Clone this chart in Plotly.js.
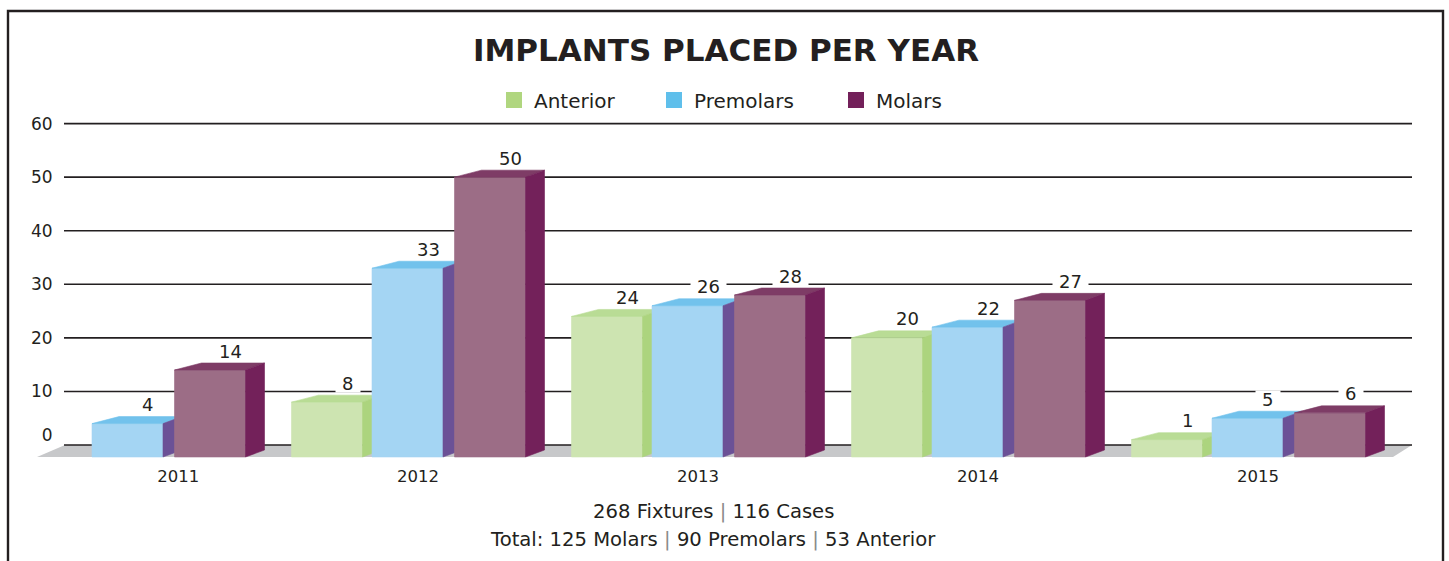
<!DOCTYPE html>
<html><head><meta charset="utf-8">
<script src="https://cdn.plot.ly/plotly-3.0.1.min.js"></script>
<style>html,body{margin:0;padding:0;background:#fff}#chart{width:1449px;height:561px}</style>
</head><body><div id="chart"></div>
<script>
// ---------------- data ----------------
const years = ['2011', '2012', '2013', '2014', '2015'];
const anterior = [0, 8, 24, 20, 1];
const premolars = [4, 33, 26, 22, 5];
const molars = [14, 50, 28, 27, 6];
const seriesNames = ['Anterior', 'Premolars', 'Molars'];
const yTicks = [0, 10, 20, 30, 40, 50, 60];
const chartTitle = 'IMPLANTS PLACED PER YEAR';
const footerLines = ['268 Fixtures | 116 Cases', 'Total: 125 Molars | 90 Premolars | 53 Anterior'];

// ---------------- layout / style ----------------
const FONT = 'DejaVu Sans, Verdana, sans-serif';
const INK = '#231f20';
const W = 1449, H = 561, M = {l: 37, r: 37, t: 122, b: 101};
const PW = W - M.l - M.r, PH = H - M.t - M.b;
const GROUP_PX = 280;
const X0 = -(127.5 - M.l) / GROUP_PX;
const XRANGE = [X0, X0 + PW / GROUP_PX];
const YRANGE = [-2.8, 60.3];
const pxY = PH / (YRANGE[1] - YRANGE[0]);
const px2u = p => p / GROUP_PX;
const px2paperX = p => (p - M.l) / PW;
const px2paperY = p => (H - M.b - p) / PH;
const BAR_W = px2u(71);
const OFFSETS = [px2u(-80.5), 0, px2u(82.5)];
const FRONT_DROP = 12 / pxY;
const DEPTH_Y = 7 / pxY;
const DEPTH_XL = px2u(27), DEPTH_XR = px2u(19);
const COLORS = {
  front: ['#cde4b1', '#a4d5f3', '#9c6d86'],
  top: ['#b9dc95', '#72c2ec', '#7e3c66'],
  side: ['#acd47e', '#6b5196', '#73215a'],
  legend: ['#b0d67f', '#5fbfeb', '#73205a']
};
const LEGEND_WIDTHS = [115, 137, null];
const LABEL_SIZE = 18;
const seriesValues = [anterior, premolars, molars];

// ---------------- traces ----------------
const traces = [];
// legend entries
seriesNames.forEach((name, s) => {
  const t = {type: 'scatter', mode: 'markers', x: [null], y: [null], name: name,
    marker: {symbol: 'square', size: 16, color: COLORS.legend[s]}, hoverinfo: 'skip'};
  if (LEGEND_WIDTHS[s]) t.legendwidth = LEGEND_WIDTHS[s];
  traces.push(t);
});

function polyTrace(xs, ys, color) {
  return {type: 'scatter', mode: 'lines', x: xs, y: ys, fill: 'toself', fillcolor: color,
    line: {color: color, width: 0.6}, showlegend: false, hoverinfo: 'skip'};
}

seriesValues.forEach((vals, s) => {
  const fx = [], fy = [], tx = [], ty = [], sx = [], sy = [];
  vals.forEach((v, i) => {
    if (!v) return;
    const xl = i + OFFSETS[s] - BAR_W / 2, xr = i + OFFSETS[s] + BAR_W / 2;
    const yb = -FRONT_DROP;
    fx.push(xl, xr, xr, xl, xl, null); fy.push(yb, yb, v, v, yb, null);
    tx.push(xl, xl + DEPTH_XL, xr + DEPTH_XR, xr, xl, null);
    ty.push(v, v + DEPTH_Y, v + DEPTH_Y, v, v, null);
    sx.push(xr, xr + DEPTH_XR, xr + DEPTH_XR, xr, xr, null);
    sy.push(v, v + DEPTH_Y, yb + DEPTH_Y, yb, v, null);
  });
  traces.push(polyTrace(fx, fy, COLORS.front[s]));
  traces.push(polyTrace(tx, ty, COLORS.top[s]));
  traces.push(polyTrace(sx, sy, COLORS.side[s]));
});

// ---------------- x tick positions: centre of drawn bars in each group ----------------
const tickX = years.map((y, i) => {
  const drawn = [0, 1, 2].filter(s => seriesValues[s][i] > 0);
  const left = i + OFFSETS[drawn[0]] - BAR_W / 2;
  const right = i + OFFSETS[drawn[drawn.length - 1]] + BAR_W / 2 + DEPTH_XR;
  return (left + right) / 2;
});

// ---------------- shapes ----------------
const shapes = [];
// floor
shapes.push({type: 'path', xref: 'paper', yref: 'y', layer: 'below',
  path: `M ${px2paperX(37)},${-FRONT_DROP} L ${px2paperX(65)},0 L ${px2paperX(1412)},0 L ${px2paperX(1393)},${-FRONT_DROP} Z`,
  fillcolor: '#c7c8ca', line: {width: 0}});
// gridlines
yTicks.forEach(v => shapes.push({type: 'line', xref: 'paper', yref: 'y', layer: 'below',
  x0: px2paperX(64), x1: px2paperX(1412), y0: v, y1: v, line: {color: INK, width: 1.6}}));
// frame
shapes.push({type: 'rect', xref: 'paper', yref: 'paper',
  x0: px2paperX(8), x1: px2paperX(1443), y0: px2paperY(620), y1: px2paperY(11),
  line: {color: INK, width: 2.4}, fillcolor: 'rgba(0,0,0,0)'});

// ---------------- annotations ----------------
const annotations = [];
seriesValues.forEach((vals, s) => vals.forEach((v, i) => {
  if (!v) return;
  const txt = String(v);
  annotations.push({x: i + OFFSETS[s] + px2u(20.5), y: v, xref: 'x', yref: 'y',
    text: txt, showarrow: false, yanchor: 'middle', yshift: 19,
    width: txt.length * 0.64 * LABEL_SIZE + 12, height: 17,
    bgcolor: '#ffffff', borderpad: 0, font: {family: FONT, size: LABEL_SIZE, color: INK}});
}));
footerLines.forEach((t, k) => annotations.push({
  x: px2paperX(713), y: px2paperY(512 + 27 * k), xref: 'paper', yref: 'paper',
  text: t.replace(/\|/g, '<span style="color:#8a8a8a">|</span>'), showarrow: false,
  xanchor: 'center', yanchor: 'middle',
  font: {family: FONT, size: 19.6, color: INK}}));

const layout = {
  width: W, height: H, margin: M,
  paper_bgcolor: '#ffffff', plot_bgcolor: 'rgba(0,0,0,0)',
  title: {text: '<b>' + chartTitle + '</b>', x: px2paperX(726), xref: 'paper', xanchor: 'center',
    y: 1 - 50 / H, yref: 'container', yanchor: 'middle',
    font: {family: FONT, size: 31, color: INK}},
  showlegend: true,
  legend: {orientation: 'h', x: px2paperX(494), xanchor: 'left', y: px2paperY(100), yanchor: 'middle',
    font: {family: FONT, size: 20, color: INK}, bgcolor: 'rgba(0,0,0,0)', itemclick: false, itemdoubleclick: false},
  xaxis: {range: XRANGE, tickvals: tickX, ticktext: years, showgrid: false, zeroline: false, showline: false,
    ticks: 'outside', ticklen: 1, tickcolor: 'rgba(0,0,0,0)', fixedrange: true,
    tickfont: {family: FONT, size: 16.5, color: INK}},
  yaxis: {range: YRANGE, tickvals: yTicks.map(v => v === 0 ? 10 / pxY : v), ticktext: yTicks.map(String),
    anchor: 'free', position: px2paperX(64), showgrid: false, zeroline: false, showline: false,
    ticks: 'outside', ticklen: 8, tickcolor: 'rgba(0,0,0,0)', fixedrange: true,
    tickfont: {family: FONT, size: 17, color: INK}},
  shapes: shapes,
  annotations: annotations
};

Plotly.newPlot('chart', traces, layout, {displayModeBar: false, staticPlot: true});
</script>
</body></html>
